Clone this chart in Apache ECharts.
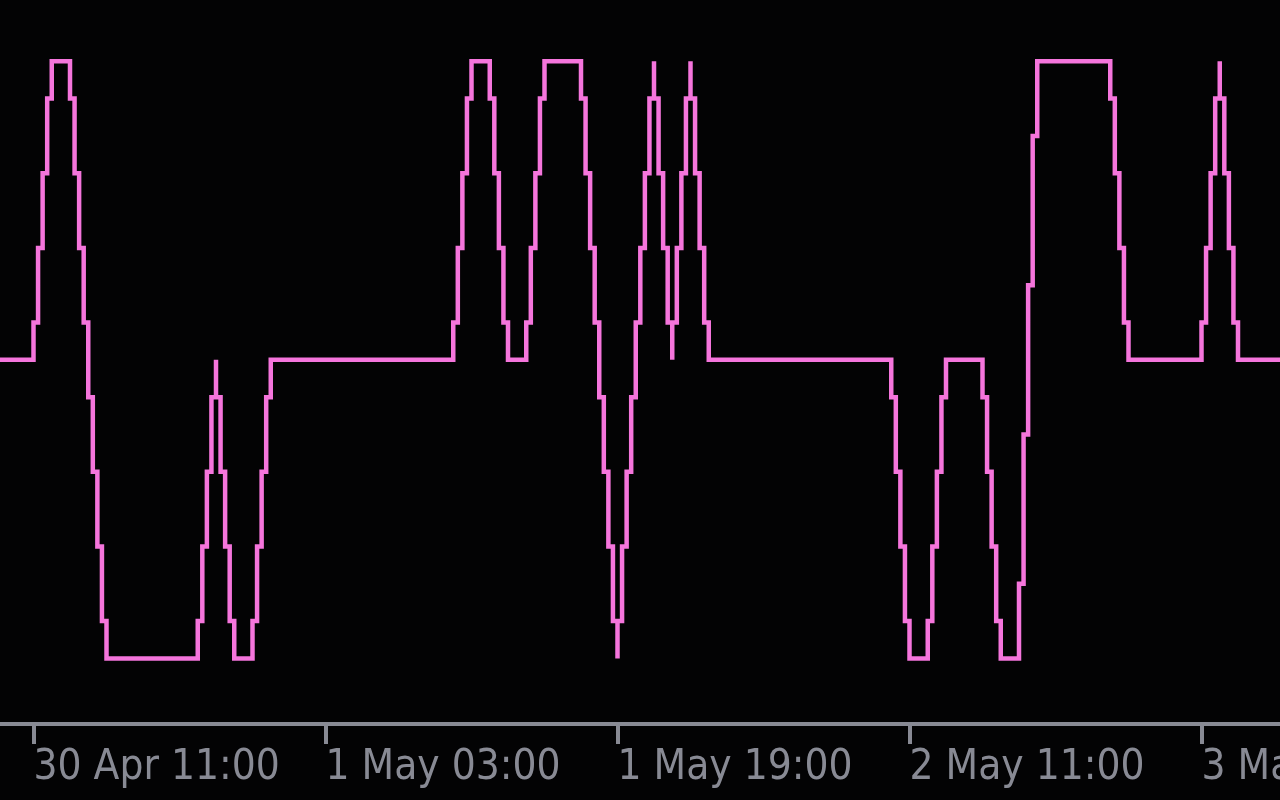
<!DOCTYPE html>
<html>
<head>
<meta charset="utf-8">
<script src="https://cdn.jsdelivr.net/npm/echarts@6/dist/echarts.min.js"></script>
<style>
html,body{margin:0;padding:0;background:#030304;}
#c{width:1280px;height:800px;}
</style>
</head>
<body>
<div id="c"></div>
<script>
// Change points of the stepped line: from each time on, the line holds the value.
// A time listed twice is a one-column spike (up and back at the same moment).
const changeTimes = [
  '04-30 09:00','04-30 11:00','04-30 11:15','04-30 11:30','04-30 11:45','04-30 12:00',
  '04-30 13:00','04-30 13:15','04-30 13:30','04-30 13:45','04-30 14:00','04-30 14:15',
  '04-30 14:30','04-30 14:45','04-30 15:00',
  '04-30 20:00','04-30 20:15','04-30 20:30','04-30 20:45','04-30 21:00','04-30 21:00',
  '04-30 21:15','04-30 21:30','04-30 21:45','04-30 22:00',
  '04-30 23:00','04-30 23:15','04-30 23:30','04-30 23:45','05-01 00:00',
  '05-01 10:00','05-01 10:15','05-01 10:30','05-01 10:45','05-01 11:00',
  '05-01 12:00','05-01 12:15','05-01 12:30','05-01 12:45','05-01 13:00',
  '05-01 14:00','05-01 14:15','05-01 14:30','05-01 14:45','05-01 15:00',
  '05-01 17:00','05-01 17:15','05-01 17:30','05-01 17:45','05-01 18:00','05-01 18:15',
  '05-01 18:30','05-01 18:45','05-01 19:00','05-01 19:00',
  '05-01 19:15','05-01 19:30','05-01 19:45','05-01 20:00','05-01 20:15','05-01 20:30',
  '05-01 20:45','05-01 21:00','05-01 21:00',
  '05-01 21:15','05-01 21:30','05-01 21:45','05-01 22:00','05-01 22:00',
  '05-01 22:15','05-01 22:30','05-01 22:45','05-01 23:00','05-01 23:00',
  '05-01 23:15','05-01 23:30','05-01 23:45','05-02 00:00',
  '05-02 10:00','05-02 10:15','05-02 10:30','05-02 10:45','05-02 11:00',
  '05-02 12:00','05-02 12:15','05-02 12:30','05-02 12:45','05-02 13:00',
  '05-02 15:00','05-02 15:15','05-02 15:30','05-02 15:45','05-02 16:00',
  '05-02 17:00','05-02 17:15','05-02 17:30','05-02 17:45','05-02 18:00',
  '05-02 22:00','05-02 22:15','05-02 22:30','05-02 22:45','05-02 23:00',
  '05-03 03:00','05-03 03:15','05-03 03:30','05-03 03:45','05-03 04:00','05-03 04:00',
  '05-03 04:15','05-03 04:30','05-03 04:45','05-03 05:00',
  '05-03 08:00'
];
const changeValues = [
  0, 0.5, 1.5, 2.5, 3.5, 4,
  3.5, 2.5, 1.5, 0.5, -0.5, -1.5,
  -2.5, -3.5, -4,
  -3.5, -2.5, -1.5, -0.5, 0, -0.5,
  -1.5, -2.5, -3.5, -4,
  -3.5, -2.5, -1.5, -0.5, 0,
  0.5, 1.5, 2.5, 3.5, 4,
  3.5, 2.5, 1.5, 0.5, 0,
  0.5, 1.5, 2.5, 3.5, 4,
  3.5, 2.5, 1.5, 0.5, -0.5, -1.5,
  -2.5, -3.5, -4, -3.5,
  -2.5, -1.5, -0.5, 0.5, 1.5, 2.5,
  3.5, 4, 3.5,
  2.5, 1.5, 0.5, 0, 0.5,
  1.5, 2.5, 3.5, 4, 3.5,
  2.5, 1.5, 0.5, 0,
  -0.5, -1.5, -2.5, -3.5, -4,
  -3.5, -2.5, -1.5, -0.5, 0,
  -0.5, -1.5, -2.5, -3.5, -4,
  -3, -1, 1, 3, 4,
  3.5, 2.5, 1.5, 0.5, 0,
  0.5, 1.5, 2.5, 3.5, 4, 3.5,
  2.5, 1.5, 0.5, 0,
  0
];
const tickTimes = ['04-30 11:00','05-01 03:00','05-01 19:00','05-02 11:00','05-03 03:00'];
const monthNames = ['Jan','Feb','Mar','Apr','May','Jun','Jul','Aug','Sep','Oct','Nov','Dec'];
const YEAR = 2024;

function toMs(s){
  const [md, hm] = s.split(' ');
  const [mo, d] = md.split('-').map(Number);
  const [h, mi] = hm.split(':').map(Number);
  return Date.UTC(YEAR, mo - 1, d, h, mi);
}
function pad(n){ return (n < 10 ? '0' : '') + n; }
function fmt(v){
  const d = new Date(Math.round(v));
  return d.getUTCDate() + ' ' + monthNames[d.getUTCMonth()] + ' ' + pad(d.getUTCHours()) + ':' + pad(d.getUTCMinutes());
}

// layout
const W = 1280, H = 800;
const firstTickX = 33.5, pxPerHour = 18.25;
const zeroY = 359.85, pxPerUnit = 74.64;
const axisY = 724, gridTop = 14;
const HOUR = 3600e3;
const xMin = toMs(tickTimes[0]) - firstTickX / pxPerHour * HOUR;
const xMax = xMin + W / pxPerHour * HOUR;
const yMin = -(axisY - zeroY) / pxPerUnit;
const yMax = (zeroY - gridTop) / pxPerUnit;

const seriesData = changeTimes.map((t, i) => [toMs(t), changeValues[i]]);
const ticks = tickTimes.map(toMs);

const axisGrey = '#888a94';
const chart = echarts.init(document.getElementById('c'), null, {renderer: 'canvas'});
chart.setOption({
  backgroundColor: '#030304',
  animation: false,
  grid: {left: 0, right: 0, top: gridTop, bottom: H - axisY, containLabel: false, outerBoundsMode: 'none'},
  xAxis: {
    type: 'value',
    min: xMin,
    max: xMax,
    axisLine: {show: true, onZero: false, lineStyle: {color: axisGrey, width: 4}},
    axisTick: {show: true, length: 20, lineStyle: {color: axisGrey, width: 4}, customValues: ticks},
    axisLabel: {
      show: true,
      customValues: ticks,
      formatter: fmt,
      align: 'left',
      margin: 23,
      color: axisGrey,
      fontFamily: "'DejaVu Sans Condensed', 'Liberation Sans', sans-serif",
      fontSize: 42,
      hideOverlap: false
    },
    splitLine: {show: false}
  },
  yAxis: {
    type: 'value',
    min: yMin,
    max: yMax,
    show: false,
    splitLine: {show: false}
  },
  series: [{
    type: 'line',
    step: 'end',
    data: seriesData,
    showSymbol: false,
    symbol: 'none',
    clip: true,
    lineStyle: {color: '#f575dc', width: 4.5, join: 'miter', cap: 'butt'}
  }]
});
</script>
</body>
</html>
